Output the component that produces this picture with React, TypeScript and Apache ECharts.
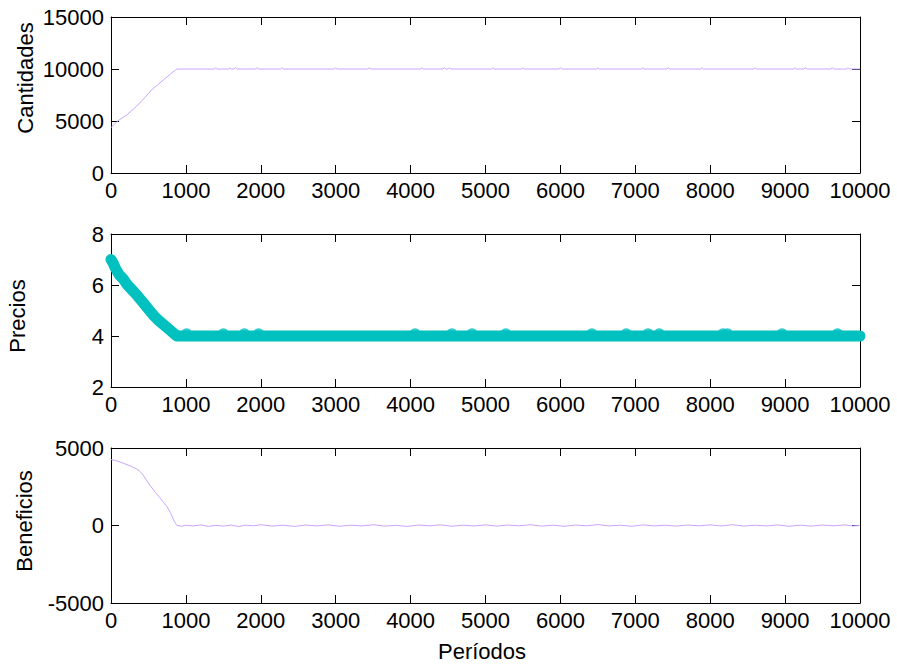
import React, { useEffect, useRef } from "react";
import * as echarts from "echarts";

// Periods / values
const cantidades: [number, number][] = [
  [0, 4350], [40, 4650], [80, 4950], [120, 5150], [160, 5350], [210, 5570],
  [260, 5900], [300, 6150], [343, 6440], [400, 6850], [450, 7250], [500, 7650],
  [565, 8150], [620, 8450], [700, 8950], [750, 9250], [800, 9550], [850, 9850],
  [880, 10000],
  [1380, 10000], [1400, 10120], [1420, 10000],
  [1570, 10000], [1590, 10100], [1610, 10000],
  [1640, 10000], [1660, 10130], [1680, 10000],
  [1930, 10000], [1950, 10130], [1970, 10000],
  [2260, 10000], [2280, 10120], [2300, 10000],
  [2980, 10000], [3000, 10100], [3020, 10000],
  [3430, 10000], [3450, 10100], [3470, 10000],
  [4130, 10000], [4150, 10110], [4170, 10000],
  [4430, 10000], [4450, 10120], [4470, 10000],
  [4500, 10000], [4520, 10100], [4540, 10000],
  [5080, 10000], [5100, 10120], [5120, 10000],
  [5480, 10000], [5500, 10100], [5520, 10000],
  [5980, 10000], [6000, 10110], [6020, 10000],
  [6480, 10000], [6500, 10100], [6520, 10000],
  [7080, 10000], [7100, 10120], [7120, 10000],
  [7420, 10000], [7440, 10110], [7460, 10000],
  [7870, 10000], [7890, 10120], [7910, 10000],
  [8580, 10000], [8600, 10100], [8620, 10000],
  [9110, 10000], [9130, 10120], [9150, 10000],
  [9250, 10000], [9270, 10110], [9290, 10000],
  [9610, 10000], [9630, 10110], [9650, 10000],
  [9820, 10000], [9840, 10120], [9860, 10000],
  [10000, 10000],
];

const preciosLinea: [number, number][] = [
  [0, 7.0], [30, 6.85], [60, 6.65], [110, 6.4], [160, 6.25], [220, 6.0],
  [300, 5.75], [360, 5.55], [430, 5.3], [500, 5.05], [570, 4.8], [640, 4.6],
  [700, 4.45], [780, 4.25], [840, 4.1], [880, 4.0], [10000, 4.0],
];

const preciosPicos: [number, number][] = [
  [1010, 4.09], [1500, 4.09], [1780, 4.09], [1970, 4.09], [4060, 4.09],
  [4550, 4.09], [4820, 4.09], [5270, 4.09], [6420, 4.09], [6880, 4.09],
  [7170, 4.09], [7320, 4.09], [8170, 4.09], [8230, 4.09], [8960, 4.09],
  [9700, 4.09],
];

const beneficios: [number, number][] = [
  [0, 4250], [60, 4200], [120, 4100], [200, 3950], [280, 3800], [340, 3650],
  [390, 3480], [430, 3250], [470, 2950], [520, 2600], [590, 2150], [650, 1800],
  [700, 1500], [750, 1200], [790, 850], [820, 550], [840, 300], [860, 150],
  [880, 0], [950, -50], [1000, 20], [1100, -30], [1200, 40], [1300, -60],
  [1400, 10], [1500, -40], [1600, 30], [1700, -70], [1800, 20], [1900, -20],
  [2000, 50], [2150, -40], [2300, 20], [2450, -60], [2600, 30], [2750, -30],
  [2900, 40], [3050, -50], [3200, 20], [3350, -30], [3500, 50], [3650, -40],
  [3800, 10], [3950, -60], [4100, 30], [4250, -20], [4400, 40], [4550, -50],
  [4700, 20], [4850, -30], [5000, 40], [5150, -40], [5300, 30], [5450, -20],
  [5600, 50], [5750, -40], [5900, 20], [6050, -50], [6200, 30], [6350, -20],
  [6500, 60], [6650, -30], [6800, 20], [6950, -50], [7100, 40], [7250, -30],
  [7400, 20], [7550, -40], [7700, 30], [7850, -20], [8000, 40], [8150, -30],
  [8300, 50], [8450, -40], [8600, 20], [8750, -30], [8900, 40], [9050, -50],
  [9200, 20], [9350, -40], [9500, 30], [9650, -20], [9800, 40], [9900, -30],
  [10000, 0],
];

const xTicks = { min: 0, max: 10000, interval: 1000 };
const yCantidades = { min: 0, max: 15000, interval: 5000 };
const yPrecios = { min: 2, max: 8, interval: 2 };
const yBeneficios = { min: -5000, max: 5000, interval: 5000 };

const FONT = "'Liberation Sans', Arial, sans-serif";
const PURPLE = "#c9a4ff";
const TEAL = "#00c0c0";

export default function App() {
  const ref = useRef<HTMLDivElement>(null);

  useEffect(() => {
    if (!ref.current) return;
    const chart = echarts.init(ref.current, undefined, { renderer: "svg" });

    const grids = [
      { left: 111, top: 17, width: 749, height: 156 },
      { left: 111, top: 234, width: 749, height: 153 },
      { left: 111, top: 448, width: 749, height: 155 },
    ];

    const plain = (v: number) => String(v);

    const axisCommon = {
      type: "value" as const,
      axisLine: { show: true, onZero: false, lineStyle: { color: "#000", width: 1 } },
      axisTick: { show: true, inside: true, length: 8, lineStyle: { color: "#000", width: 1 } },
      splitLine: { show: false },
    };

    const xAxes: any[] = [];
    const yAxes: any[] = [];
    const yRanges = [yCantidades, yPrecios, yBeneficios];
    grids.forEach((_, i) => {
      xAxes.push({
        ...axisCommon,
        gridIndex: i,
        position: "bottom",
        ...xTicks,
        axisLabel: { show: true, margin: 6, fontSize: 22, color: "#000", fontFamily: FONT, formatter: plain },
      });
      xAxes.push({
        ...axisCommon,
        gridIndex: i,
        position: "top",
        ...xTicks,
        axisLabel: { show: false },
      });
      yAxes.push({
        ...axisCommon,
        gridIndex: i,
        position: "left",
        ...yRanges[i],
        axisLabel: { show: true, margin: 7, fontSize: 22, color: "#000", fontFamily: FONT, formatter: plain },
      });
      yAxes.push({
        ...axisCommon,
        gridIndex: i,
        position: "right",
        ...yRanges[i],
        axisLabel: { show: false },
      });
    });

    const nameStyle = (text: string) => ({
      text,
      fontSize: 22,
      fontFamily: FONT,
      fill: "#000",
      align: "center",
      verticalAlign: "middle",
      textAlign: "center",
      textVerticalAlign: "middle",
    });

    chart.setOption({
      animation: false,
      backgroundColor: "#fff",
      grid: grids,
      xAxis: xAxes,
      yAxis: yAxes,
      graphic: [
        { type: "text", x: 25, y: 78, rotation: Math.PI / 2, style: nameStyle("Cantidades") },
        { type: "text", x: 17, y: 316, rotation: Math.PI / 2, style: nameStyle("Precios") },
        { type: "text", x: 24, y: 521, rotation: Math.PI / 2, style: nameStyle("Beneficios") },
        { type: "text", x: 482, y: 651, style: nameStyle("Períodos") },
      ],
      series: [
        {
          name: "Cantidades",
          type: "line",
          xAxisIndex: 0,
          yAxisIndex: 0,
          data: cantidades,
          showSymbol: false,
          lineStyle: { color: PURPLE, width: 1 },
        },
        {
          name: "Precios",
          type: "line",
          xAxisIndex: 2,
          yAxisIndex: 2,
          data: preciosLinea,
          showSymbol: false,
          clip: false,
          lineStyle: { color: TEAL, width: 11, cap: "round", join: "round" },
        },
        {
          name: "Precios picos",
          type: "scatter",
          xAxisIndex: 2,
          yAxisIndex: 2,
          data: preciosPicos,
          symbol: "circle",
          symbolSize: 11,
          itemStyle: { color: TEAL },
        },
        {
          name: "Beneficios",
          type: "line",
          xAxisIndex: 4,
          yAxisIndex: 4,
          data: beneficios,
          showSymbol: false,
          lineStyle: { color: PURPLE, width: 1 },
        },
      ],
    });

    return () => chart.dispose();
  }, []);

  return (
    <div
      ref={ref}
      style={{ position: "fixed", left: 0, top: 0, width: 897, height: 666, background: "#fff" }}
    />
  );
}
